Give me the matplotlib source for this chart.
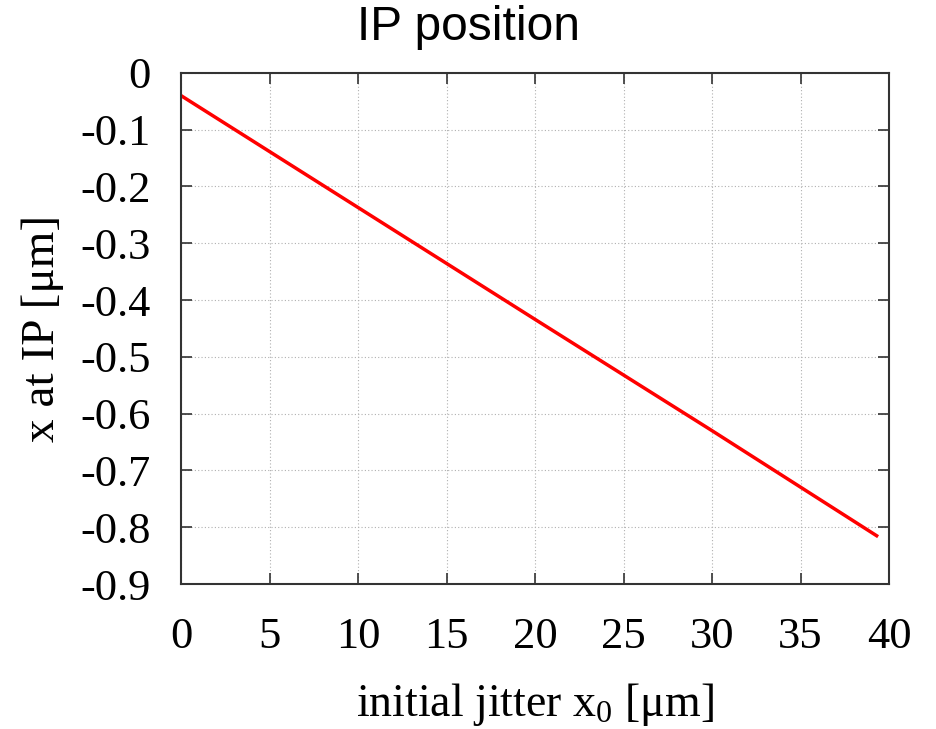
import matplotlib.pyplot as plt

# values
jitter = [0.0, 10.0, 20.0, 30.0, 39.3]
x_ip = [-0.040, -0.237, -0.434, -0.630, -0.815]

xticks = [0, 5, 10, 15, 20, 25, 30, 35, 40]
yticks = [0, -0.1, -0.2, -0.3, -0.4, -0.5, -0.6, -0.7, -0.8, -0.9]
ytick_labels = ['0', '-0.1', '-0.2', '-0.3', '-0.4', '-0.5', '-0.6', '-0.7', '-0.8', '-0.9']

serif = 'Liberation Serif'
plt.rcParams['axes.unicode_minus'] = False
plt.rcParams['mathtext.fontset'] = 'custom'
plt.rcParams['mathtext.rm'] = serif
plt.rcParams['mathtext.it'] = serif + ':italic'

fig = plt.figure(figsize=(9.37, 7.29), dpi=100)
ax = fig.add_axes([0.1932, 0.1989, 0.7556, 0.7011])

ax.plot(jitter, x_ip, color='red', lw=2.5)

ax.set_xlim(0, 40)
ax.set_ylim(-0.9, 0)
ax.set_xticks(xticks)
ax.set_yticks(yticks)
ax.set_xticklabels([str(t) for t in xticks], fontfamily=serif, fontsize=32)
ax.set_yticklabels(ytick_labels, fontfamily=serif, fontsize=32)

ax.grid(True, color='#b0b0b0', linestyle=(0, (1, 2)), lw=0.8)
ax.tick_params(direction='in', length=8, width=1.2, top=True, right=True,
               color='#333333')
ax.tick_params(axis='x', pad=24)
ax.tick_params(axis='y', pad=22)
for s in ax.spines.values():
    s.set_color('#333333')
    s.set_linewidth(1.5)

ax.set_xlabel('initial jitter x$_{\\mathrm{0}}$ [\u03bcm]', fontfamily=serif, fontsize=33)
ax.xaxis.set_label_coords(0.5, -0.19)
ax.set_ylabel('x at IP [\u03bcm]', fontfamily=serif, fontsize=34)
ax.yaxis.set_label_coords(-0.166, 0.5)

fig.text(0.5, 0.993, 'IP position', ha='center', va='top',
         fontfamily='Liberation Sans', fontsize=34.5)

fig.savefig('out.png', dpi=100)
